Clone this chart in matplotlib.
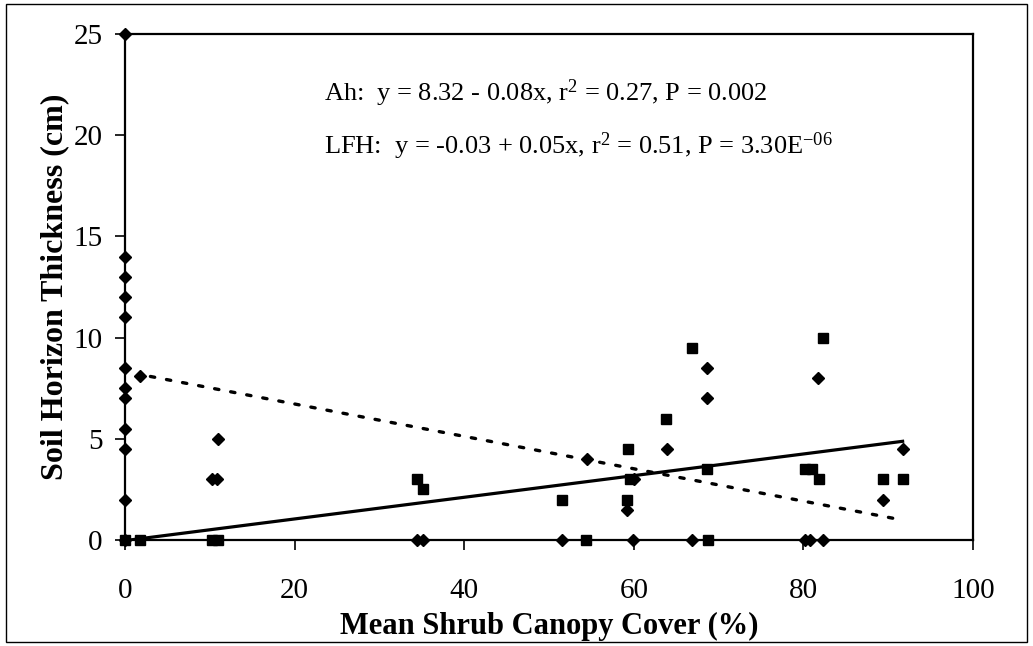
import matplotlib
matplotlib.use("Agg")
import matplotlib.pyplot as plt
import numpy as np
from matplotlib.patches import Rectangle

plt.rcParams['font.family'] = ['Liberation Serif', 'DejaVu Serif']
plt.rcParams['mathtext.fontset'] = 'custom'
plt.rcParams['mathtext.rm'] = 'Liberation Serif'
plt.rcParams['mathtext.it'] = 'Liberation Serif:italic'
plt.rcParams['mathtext.default'] = 'regular'

# Ah horizon thickness (diamonds)
ah_x = [0, 0, 0, 0, 0, 0, 0, 0, 0, 0, 0, 0,
        1.8, 10.3, 10.9, 11.0, 34.4, 35.1, 51.5, 54.5, 59.2, 59.9, 60.0,
        63.9, 66.9, 68.6, 68.6, 80.2, 80.8, 81.7, 82.3, 89.4, 91.7]
ah_y = [25, 14, 13, 12, 11, 8.5, 7.5, 7, 5.5, 4.5, 2, 0,
        8.1, 3, 3, 5, 0, 0, 0, 4, 1.5, 0, 3,
        4.5, 0, 8.5, 7, 0, 0, 8, 0, 2, 4.5]

# LFH horizon thickness (squares)
lfh_x = [0, 1.8, 10.3, 11.0, 34.4, 35.1, 51.5, 54.4, 59.2, 59.3, 59.6,
         63.8, 66.9, 68.7, 68.6, 80.2, 81.0, 81.8, 82.3, 89.4, 91.7]
lfh_y = [0, 0, 0, 0, 3, 2.5, 2, 0, 2, 4.5, 3,
         6, 9.5, 0, 3.5, 3.5, 3.5, 3, 10, 3, 3]

# regression lines (intercept, slope, x range)
ah_fit = (8.32, -0.08)
ah_range = (3.0, 91.3)
lfh_fit = (-0.03, 0.0535)
lfh_range = (0.0, 91.7)

x_ticks = [0, 20, 40, 60, 80, 100]
y_ticks = [0, 5, 10, 15, 20, 25]

ah_text = "Ah:  y = 8.32 - 0.08x, r$^{2}$ = 0.27, P = 0.002"
lfh_text = "LFH:  y = -0.03 + 0.05x, r$^{2}$ = 0.51, P = 3.30E$^{-06}$"

W, H = 1033, 646
fig = plt.figure(figsize=(W / 100, H / 100), dpi=100)
ax = fig.add_axes([125 / W, 1 - 540 / H, (973 - 125) / W, (540 - 34) / H])

xa = np.array(ah_range)
ax.plot(xa, ah_fit[0] + ah_fit[1] * xa, color='black', lw=2.4,
        linestyle=(0, (1.3, 3.6)), dash_capstyle='round')
xl = np.array(lfh_range)
ax.plot(xl, lfh_fit[0] + lfh_fit[1] * xl, color='black', lw=2.3)

ax.plot(lfh_x, lfh_y, linestyle='none', marker='s', ms=7, color='black', clip_on=False, zorder=3)
ax.plot(ah_x, ah_y, linestyle='none', marker='D', ms=6.5, color='black', clip_on=False, zorder=4)

ax.set_xlim(0, 100)
ax.set_ylim(0, 25)
ax.set_xticks(x_ticks)
ax.set_yticks(y_ticks)
ax.tick_params(direction='out', length=7, width=1.2, labelsize=21)
ax.tick_params(axis='x', pad=20)
ax.tick_params(axis='y', pad=9)
for s in ax.spines.values():
    s.set_linewidth(1.6)

ax.set_xlabel("Mean Shrub Canopy Cover (%)", fontsize=22, fontweight='bold', labelpad=6)
ax.set_ylabel("Soil Horizon Thickness (cm)", fontsize=23, fontweight='bold', labelpad=3)

fig.text(324 / W, 1 - 93 / H, ah_text, fontsize=19, va='center', ha='left')
fig.text(324 / W, 1 - 146 / H, lfh_text, fontsize=19, va='center', ha='left')

fig.patches.append(Rectangle((6 / W, 4 / H), (W - 12) / W, (H - 8) / H,
                             transform=fig.transFigure, fill=False, lw=1, ec='black'))

fig.savefig("out.png", dpi=100)
